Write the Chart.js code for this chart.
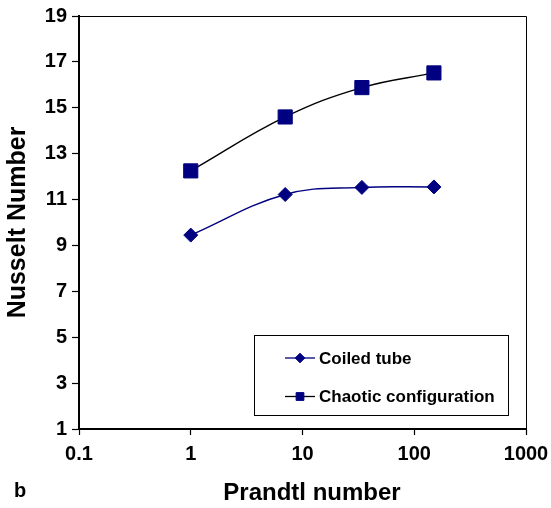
<!DOCTYPE html>
<html>
<head>
<meta charset="utf-8">
<script src="https://cdn.jsdelivr.net/npm/chart.js@4"></script>
<style>
    html, body { margin: 0; padding: 0; background: #fff; }
    #wrap { position: relative; width: 551px; height: 508px; }
</style>
</head>
<body>
<div id="wrap"><canvas id="nusseltChart" width="551" height="508"></canvas></div>
<script>
var prandtl = [1, 7, 34, 150];
var coiledTube = [9.45, 11.22, 11.53, 11.55];
var chaoticConfig = [12.25, 14.6, 15.88, 16.52];
var xTicks = [0.1, 1, 10, 100, 1000];
var seriesNames = ['Coiled tube', 'Chaotic configuration'];
var xTitle = 'Prandtl number';
var panelLabel = 'b';

var FONT = '"Liberation Sans", Arial, sans-serif';
var NAVY = '#000080';

function toPoints(xs, ys) {
    return xs.map(function(x, i) { return {x: x, y: ys[i]}; });
}

// frame on top/right, the boxed legend, x title and the panel letter
var decorations = {
    id: 'decorations',
    afterDraw: function(chart) {
        var ctx = chart.ctx;
        var area = chart.chartArea;
        ctx.save();
        ctx.strokeStyle = '#000';
        ctx.lineWidth = 1;
        ctx.beginPath();
        ctx.moveTo(area.left, area.top + 0.5);
        ctx.lineTo(area.right + 0.5, area.top + 0.5);
        ctx.lineTo(area.right + 0.5, area.bottom);
        ctx.stroke();

        // legend box
        var boxW = 254, boxH = 80;
        var bx = area.right - 18 - boxW;
        var by = area.bottom - 14 - boxH;
        ctx.fillStyle = '#fff';
        ctx.fillRect(bx, by, boxW, boxH);
        ctx.strokeRect(Math.round(bx) + 0.5, Math.round(by) + 0.5, boxW, boxH);

        ctx.font = 'bold 17px ' + FONT;
        ctx.textBaseline = 'middle';
        ctx.textAlign = 'left';
        chart.data.datasets.forEach(function(ds, i) {
            var rowY = by + 23 + i * 38.5;
            var x0 = bx + 31, x1 = bx + 61;
            ctx.strokeStyle = ds.borderColor;
            ctx.lineWidth = 1.3;
            ctx.beginPath();
            ctx.moveTo(x0, rowY);
            ctx.lineTo(x1, rowY);
            ctx.stroke();
            ctx.fillStyle = ds.pointBackgroundColor;
            ctx.strokeStyle = ds.pointBorderColor;
            ctx.lineWidth = 1;
            Chart.helpers.drawPoint(ctx, {
                pointStyle: ds.pointStyle,
                radius: ds.pointStyle === 'rect' ? 5.5 : 4.8,
                rotation: 0,
                borderWidth: 1
            }, (x0 + x1) / 2, rowY);
            ctx.fillStyle = '#000';
            ctx.fillText(ds.label, bx + 65, rowY + 1);
        });

        ctx.fillStyle = '#000';
        ctx.font = 'bold 24px ' + FONT;
        ctx.textAlign = 'center';
        ctx.fillText(xTitle, 312, 493);

        ctx.font = 'bold 20px ' + FONT;
        ctx.textAlign = 'left';
        ctx.fillText(panelLabel, 14, 491);
        ctx.restore();
    }
};

new Chart(document.getElementById('nusseltChart'), {
    type: 'line',
    data: {
        datasets: [{
            label: seriesNames[0],
            data: toPoints(prandtl, coiledTube),
            borderColor: NAVY,
            borderWidth: 1.4,
            pointStyle: 'rectRot',
            pointRadius: 7,
            pointBackgroundColor: NAVY,
            pointBorderColor: NAVY,
            pointBorderWidth: 1,
            tension: 0.4,
            fill: false
        }, {
            label: seriesNames[1],
            data: toPoints(prandtl, chaoticConfig),
            borderColor: '#000',
            borderWidth: 1.4,
            pointStyle: 'rect',
            pointRadius: 10,
            pointBackgroundColor: NAVY,
            pointBorderColor: NAVY,
            pointBorderWidth: 1,
            tension: 0.4,
            fill: false
        }]
    },
    options: {
        responsive: false,
        animation: false,
        layout: { padding: { top: 16, right: 25, left: 0, bottom: 0 } },
        plugins: {
            legend: { display: false },
            tooltip: { enabled: false }
        },
        scales: {
            x: {
                type: 'logarithmic',
                min: 0.1,
                max: 1000,
                afterBuildTicks: function(scale) {
                    scale.ticks = xTicks.map(function(v) { return {value: v}; });
                },
                afterFit: function(scale) {
                    scale.height = 79;
                    scale.paddingLeft = 0;
                    scale.paddingRight = 0;
                },
                ticks: {
                    autoSkip: false,
                    maxRotation: 0,
                    padding: 7,
                    color: '#000',
                    font: { family: FONT, size: 20, weight: 'bold' },
                    callback: function(value) { return String(value); }
                },
                grid: {
                    drawOnChartArea: false,
                    tickLength: 6,
                    tickColor: '#000',
                    tickWidth: 1.2
                },
                border: { color: '#000', width: 2 }
            },
            y: {
                min: 1,
                max: 19,
                afterFit: function(scale) {
                    scale.width = 79;
                    scale.paddingTop = 0;
                    scale.paddingBottom = 0;
                },
                ticks: {
                    stepSize: 2,
                    padding: 5,
                    color: '#000',
                    font: { family: FONT, size: 20, weight: 'bold' }
                },
                grid: {
                    drawOnChartArea: false,
                    tickLength: 7,
                    tickColor: '#000',
                    tickWidth: 1.2
                },
                border: { color: '#000', width: 2 },
                title: {
                    display: true,
                    text: 'Nusselt Number',
                    color: '#000',
                    font: { family: FONT, size: 25, weight: 'bold' },
                    padding: { top: 3, bottom: 0 }
                }
            }
        }
    },
    plugins: [decorations]
});
</script>
</body>
</html>
